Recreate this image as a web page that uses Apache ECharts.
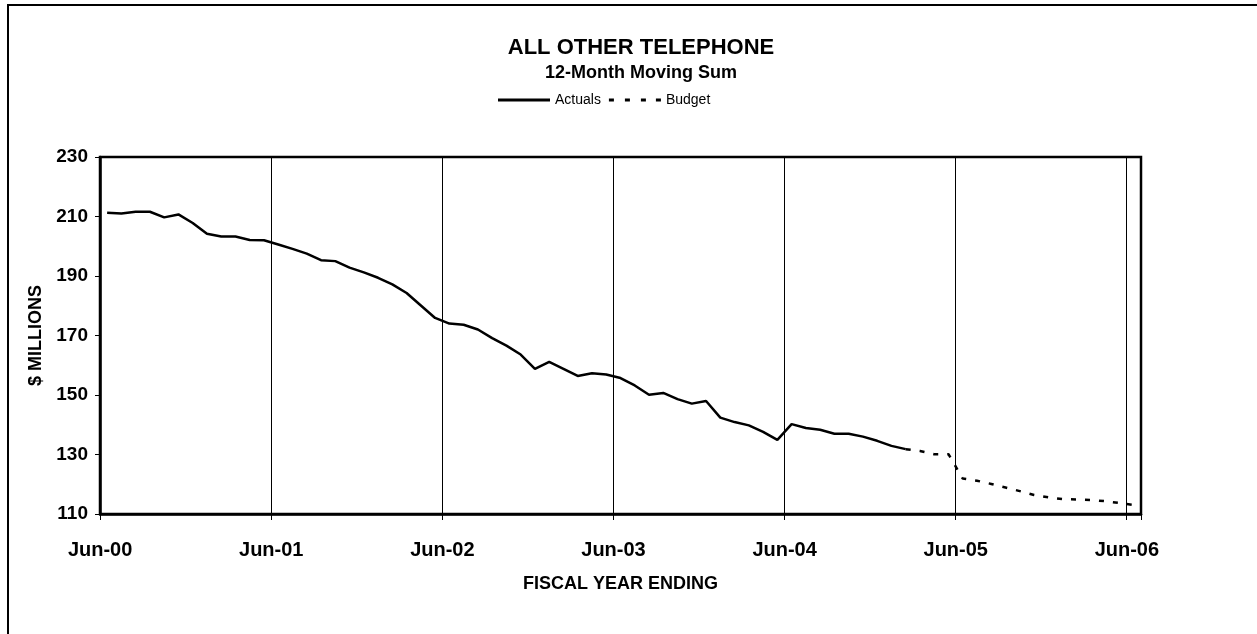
<!DOCTYPE html>
<html>
<head>
<meta charset="utf-8">
<script src="https://cdn.jsdelivr.net/npm/echarts@6/dist/echarts.min.js"></script>
<style>
  html, body { margin: 0; padding: 0; background: #fff; }
  #chart { width: 1257px; height: 634px; }
</style>
</head>
<body>
<div id="chart"></div>
<script>
// ---- data ----
const monthNames = ['Jun','Jul','Aug','Sep','Oct','Nov','Dec','Jan','Feb','Mar','Apr','May'];
const startYear = 2000;      // first category: Jun-00
const monthCount = 73;       // Jun-00 .. Jun-06
const tickLabels = ['Jun-00','Jun-01','Jun-02','Jun-03','Jun-04','Jun-05','Jun-06'];

// 12-month moving sum, $ millions, Jun-00 .. Feb-05
const actuals = [
  211.3, 211.0, 211.6, 211.6, 209.7, 210.7, 207.8, 204.2, 203.3, 203.3, 202.1, 202.0,
  200.6, 199.1, 197.5, 195.3, 195.0, 192.8, 191.2, 189.4, 187.2, 184.3, 180.1, 175.9,
  174.0, 173.6, 172.0, 169.1, 166.6, 163.6, 158.8, 161.1, 158.8, 156.4, 157.3, 156.9,
  155.7, 153.2, 150.1, 150.7, 148.6, 147.1, 148.0, 142.4, 140.9, 139.8, 137.6, 134.9,
  140.2, 138.9, 138.3, 137.0, 137.0, 136.0, 134.6, 132.9, 131.8
];
// Budget, Feb-05 .. Jun-06
const budgetStart = 56;
const budget = [
  131.8, 131.2, 130.1, 130.1, 121.9, 121.2, 120.1, 118.9, 117.7, 116.4, 115.6, 115.0,
  114.9, 114.7, 114.3, 113.7, 113.0
];

// ---- build ----
const categories = [];
for (let i = 0; i < monthCount; i++) {
  const mIdx = i % 12;
  const yOff = Math.floor((i + 6) / 12); // Jan starts new calendar year
  const yr = (startYear + yOff) % 100;
  categories.push(monthNames[mIdx] + '-' + String(yr).padStart(2, '0'));
}
const actualData = categories.map((c, i) => i < actuals.length ? actuals[i] : null);
const budgetData = categories.map((c, i) => (i >= budgetStart && i - budgetStart < budget.length) ? budget[i - budgetStart] : null);

const FONT = "'Liberation Sans', Arial, Helvetica, sans-serif";
const everyYear = (idx) => idx % 12 === 0;

const chart = echarts.init(document.getElementById('chart'), null, { renderer: 'canvas' });
chart.setOption({
  animation: false,
  backgroundColor: '#fff',
  textStyle: { fontFamily: FONT, color: '#000' },
  graphic: [
    { type: 'rect', z: -1, shape: { x: 8, y: 5, width: 1270, height: 650 },
      style: { fill: 'none', stroke: '#000', lineWidth: 2 } }
  ],
  title: [
    { text: 'ALL OTHER TELEPHONE', left: 636, top: 32, textAlign: 'center',
      textStyle: { fontFamily: FONT, fontWeight: 'bold', fontSize: 22, color: '#000' } },
    { text: '12-Month Moving Sum', left: 636, top: 59, textAlign: 'center',
      textStyle: { fontFamily: FONT, fontWeight: 'bold', fontSize: 18, color: '#000' } }
  ],
  legend: {
    data: [
      { name: 'Actuals', icon: 'path://M0,0H52V3H0Z' },
      { name: 'Budget', icon: 'path://M0,0H5V3H0Z M16,0H21V3H16Z M32,0H37V3H32Z M47,0H52V3H47Z' }
    ],
    left: 498, top: 93,
    itemWidth: 52, itemHeight: 3, itemGap: 8, padding: 0,
    itemStyle: { color: '#000' },
    textStyle: { fontFamily: FONT, fontSize: 14, color: '#000' }
  },
  grid: { left: 100, right: 116, top: 157, bottom: 120, show: true, borderColor: '#000', borderWidth: 2.5, z: 3 },
  xAxis: {
    type: 'category',
    data: categories,
    boundaryGap: true,
    name: 'FISCAL YEAR ENDING',
    nameLocation: 'middle',
    nameGap: 61,
    nameTextStyle: { fontFamily: FONT, fontWeight: 'bold', fontSize: 18, color: '#000' },
    axisLine: { show: true, lineStyle: { color: '#000', width: 2.5 } },
    axisTick: { show: true, interval: everyYear, length: 6, lineStyle: { color: '#000', width: 1 } },
    splitLine: { show: true, interval: everyYear, lineStyle: { color: '#000', width: 1 } },
    axisLabel: {
      interval: 11, margin: 26,
      fontFamily: FONT, fontWeight: 'bold', fontSize: 20, color: '#000',
      padding: [0, 14, 0, 0],
      formatter: (v, i) => tickLabels[i / 12] || ''
    }
  },
  yAxis: {
    type: 'value',
    min: 110, max: 230, interval: 20,
    name: '$ MILLIONS',
    nameLocation: 'middle',
    nameGap: 55,
    nameRotate: 90,
    nameTextStyle: { fontFamily: FONT, fontWeight: 'bold', fontSize: 18, color: '#000' },
    axisLine: { show: true, lineStyle: { color: '#000', width: 2.5 } },
    axisTick: { show: true, length: 5, lineStyle: { color: '#000', width: 1 } },
    splitLine: { show: false },
    axisLabel: { margin: 12, fontFamily: FONT, fontWeight: 'bold', fontSize: 19, color: '#000' }
  },
  series: [
    { name: 'Actuals', type: 'line', data: actualData, symbol: 'none', showSymbol: false,
      connectNulls: false, z: 5,
      lineStyle: { color: '#000', width: 2.5, type: 'solid' }, itemStyle: { color: '#000' } },
    { name: 'Budget', type: 'line', data: budgetData, symbol: 'none', showSymbol: false,
      connectNulls: false, z: 5,
      lineStyle: { color: '#000', width: 2.5, type: [5, 9] }, itemStyle: { color: '#000' } }
  ]
});
</script>
</body>
</html>
